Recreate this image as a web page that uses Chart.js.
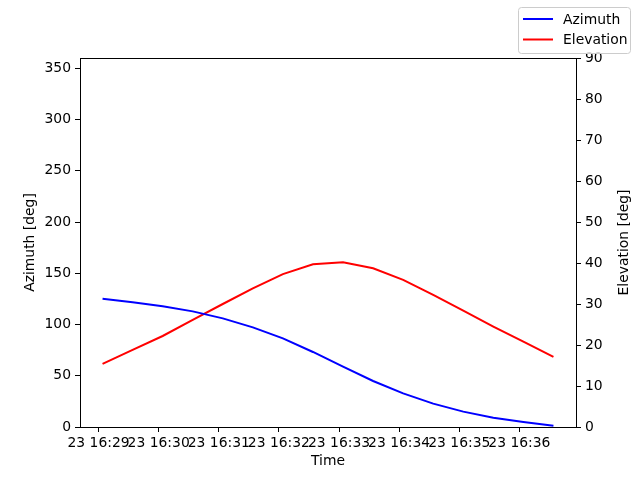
<!DOCTYPE html>
<html>
<head>
<meta charset="utf-8">
<script src="https://cdn.jsdelivr.net/npm/chart.js@4"></script>
<style>
  html, body { margin: 0; padding: 0; background: #ffffff; }
  #chart { display: block; }
</style>
</head>
<body>
<canvas id="chart" width="640" height="480"></canvas>
<script>
// 数据 (时间, 方位角, 仰角)
const TIMES = ['16:29:04', '16:29:34', '16:30:04', '16:30:34', '16:31:04', '16:31:34',
               '16:32:04', '16:32:34', '16:33:04', '16:33:34', '16:34:04', '16:34:34',
               '16:35:04', '16:35:34', '16:36:04', '16:36:34'];
const AZIMUTH = [125.2, 121.6, 117.7, 112.8, 106.0, 97.2, 86.5, 73.2,
                 58.9, 44.9, 32.8, 22.8, 15.0, 9.1, 4.9, 1.3];
const ELEVATION = [15.4, 18.8, 22.2, 26.1, 30.0, 33.8, 37.3, 39.7,
                   40.2, 38.7, 35.9, 32.2, 28.4, 24.5, 20.8, 17.1];

// 刻度
const TIME_TICKS = ['16:29', '16:30', '16:31', '16:32', '16:33', '16:34', '16:35', '16:36'];
const TIME_TICK_LABELS = ['23 16:29', '23 16:30', '23 16:31', '23 16:32',
                          '23 16:33', '23 16:34', '23 16:35', '23 16:36'];
const AZ_TICKS = [0, 50, 100, 150, 200, 250, 300, 350];
const EL_TICKS = [0, 10, 20, 30, 40, 50, 60, 70, 80, 90];

const FONT = { family: 'DejaVu Sans', size: 13.9 };

// 时间字符串 -> 相对 16:29:00 的秒数
function toSeconds(t) {
    const p = t.split(':').map(Number);
    return (p[0] - 16) * 3600 + (p[1] - 29) * 60 + (p[2] || 0);
}

const xs = TIMES.map(toSeconds);
const margin = (xs[xs.length - 1] - xs[0]) * 0.05;

function series(values) {
    return values.map((v, i) => ({ x: xs[i], y: v }));
}

function fixedTicks(list) {
    return scale => { scale.ticks = list.map(v => ({ value: v })); };
}

// 边框 + 右侧标题 + 图例
const framePlugin = {
    id: 'frame',
    afterDraw(chart) {
        const ctx = chart.ctx;
        const a = chart.chartArea;
        ctx.save();
        ctx.strokeStyle = '#000000';
        ctx.lineWidth = 1;
        ctx.strokeRect(Math.round(a.left) + 0.5, Math.round(a.top) + 0.5,
                       Math.round(a.right - a.left), Math.round(a.bottom - a.top));

        // 右侧 y 轴标题 (由下往上)
        ctx.fillStyle = '#000000';
        ctx.font = FONT.size + 'px "DejaVu Sans"';
        ctx.textAlign = 'center';
        ctx.textBaseline = 'middle';
        ctx.translate(624, (a.top + a.bottom) / 2);
        ctx.rotate(-Math.PI / 2);
        ctx.fillText('Elevation [deg]', 0, 0);
        ctx.restore();

        // 图例
        ctx.save();
        const bx = 518.5, by = 7.5, bw = 112, bh = 46, r = 3;
        ctx.beginPath();
        ctx.roundRect(bx, by, bw, bh, r);
        ctx.fillStyle = 'rgba(255,255,255,0.8)';
        ctx.fill();
        ctx.strokeStyle = '#cccccc';
        ctx.lineWidth = 1;
        ctx.stroke();
        ctx.font = FONT.size + 'px "DejaVu Sans"';
        ctx.textAlign = 'left';
        ctx.textBaseline = 'middle';
        chart.data.datasets.forEach((ds, i) => {
            const y = 19 + i * 20.5;
            ctx.strokeStyle = ds.borderColor;
            ctx.lineWidth = 2;
            ctx.beginPath();
            ctx.moveTo(523, y);
            ctx.lineTo(553, y);
            ctx.stroke();
            ctx.fillStyle = '#000000';
            ctx.fillText(ds.label, 563, y + 1);
        });
        ctx.restore();
    }
};

Chart.defaults.color = '#000000';
Chart.defaults.font.family = FONT.family;
Chart.defaults.font.size = FONT.size;

const chart = new Chart(document.getElementById('chart').getContext('2d'), {
    type: 'line',
    data: {
        datasets: [
            {
                label: 'Azimuth',
                data: series(AZIMUTH),
                borderColor: '#0000ff',
                borderWidth: 2,
                pointRadius: 0,
                tension: 0,
                yAxisID: 'y'
            },
            {
                label: 'Elevation',
                data: series(ELEVATION),
                borderColor: '#ff0000',
                borderWidth: 2,
                pointRadius: 0,
                tension: 0,
                yAxisID: 'y1'
            }
        ]
    },
    options: {
        responsive: false,
        animation: false,
        devicePixelRatio: 1,
        layout: { padding: { top: 58, left: 0, right: 0, bottom: 0 } },
        plugins: {
            legend: { display: false },
            tooltip: { enabled: false }
        },
        scales: {
            x: {
                type: 'linear',
                position: 'bottom',
                min: xs[0] - margin,
                max: xs[xs.length - 1] + margin,
                afterBuildTicks: fixedTicks(TIME_TICKS.map(toSeconds)),
                afterFit: scale => { scale.height = 53; },
                title: {
                    display: true,
                    text: 'Time',
                    font: FONT,
                    padding: { top: 0, bottom: 10 }
                },
                grid: {
                    drawOnChartArea: false,
                    drawTicks: true,
                    tickLength: 5,
                    color: '#000000'
                },
                border: { display: false },
                ticks: {
                    font: FONT,
                    padding: 3,
                    autoSkip: false,
                    maxRotation: 0,
                    minRotation: 0,
                    callback: function(value) {
                        const i = TIME_TICKS.map(toSeconds).indexOf(value);
                        return i >= 0 ? TIME_TICK_LABELS[i] : '';
                    }
                }
            },
            y: {
                position: 'left',
                min: 0,
                max: 360,
                afterBuildTicks: fixedTicks(AZ_TICKS),
                afterFit: scale => { scale.width = 80; },
                title: {
                    display: true,
                    text: 'Azimuth [deg]',
                    font: FONT,
                    padding: { top: 22, bottom: 0 }
                },
                grid: {
                    drawOnChartArea: false,
                    drawTicks: true,
                    tickLength: 5,
                    color: '#000000'
                },
                border: { display: false },
                ticks: { font: FONT, padding: 4 }
            },
            y1: {
                position: 'right',
                min: 0,
                max: 90,
                afterBuildTicks: fixedTicks(EL_TICKS),
                afterFit: scale => { scale.width = 64; },
                grid: {
                    drawOnChartArea: false,
                    drawTicks: true,
                    tickLength: 5,
                    color: '#000000'
                },
                border: { display: false },
                ticks: { font: FONT, padding: 4 }
            }
        }
    },
    plugins: [framePlugin]
});
</script>
</body>
</html>
